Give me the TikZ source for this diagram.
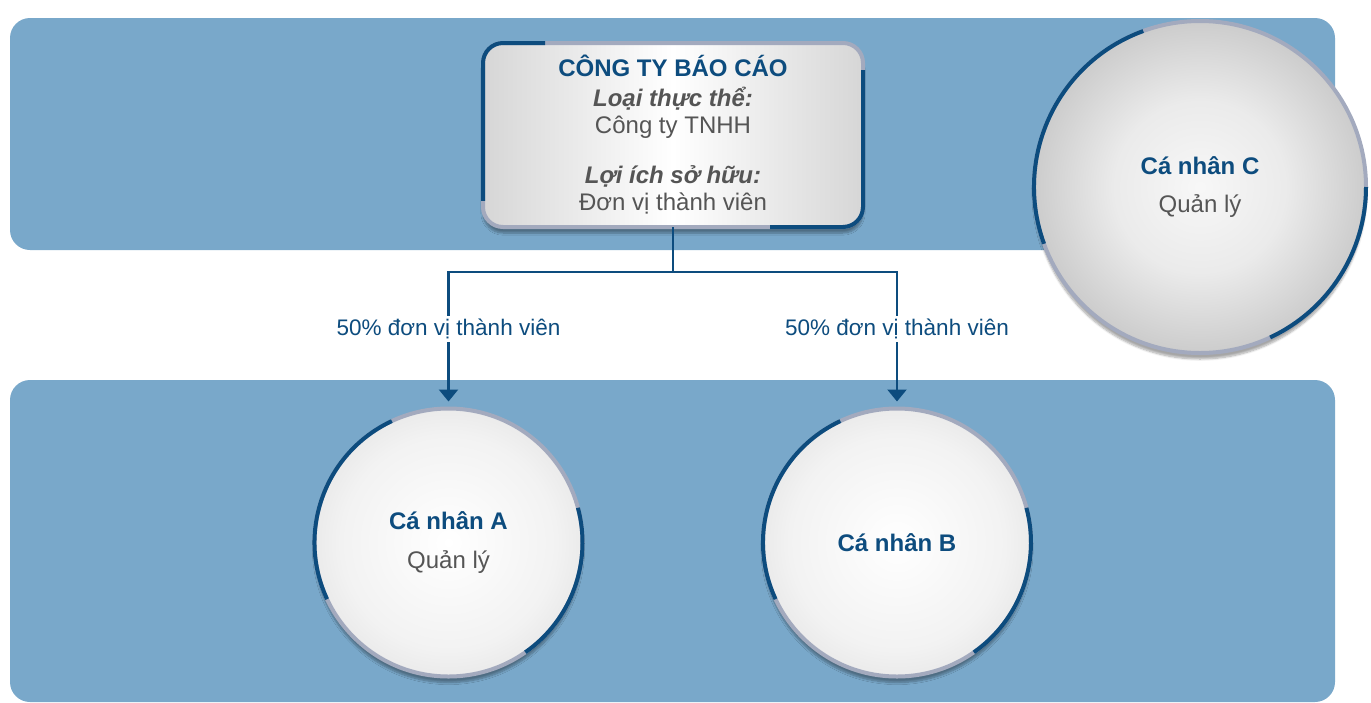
\documentclass[tikz,border=0pt]{standalone}
\usepackage{fontspec}
\setmainfont{Liberation Sans}
\usepackage{xcolor}
\usepackage{tikz}
\usetikzlibrary{shapes,arrows.meta,positioning,shadows.blur}

\definecolor{bandblue}{HTML}{79A8CA}
\definecolor{darkblue}{HTML}{0D4C7E}
\definecolor{rimgrey}{HTML}{A3AABE}
\definecolor{textgrey}{HTML}{555555}

\pgfdeclareradialshading{pearl}{\pgfpoint{0bp}{0bp}}{color(0bp)=(white); color(20bp)=(black!5); color(35bp)=(black!14); color(50bp)=(black!14)}
\pgfdeclareradialshading{bigpearl}{\pgfpoint{0bp}{0bp}}{color(0bp)=(black!3); color(13bp)=(black!8); color(35bp)=(black!30); color(50bp)=(black!30)}

\tikzset{
    band/.style={
        fill=bandblue,
        rounded corners=20pt
    },
    report/.style={
        rectangle,
        rounded corners=20pt,
        minimum width=380pt,
        minimum height=184pt,
        draw=rimgrey,
        line width=4pt,
        outer sep=0pt,
        left color=black!16,
        right color=black!16,
        middle color=white,
        blur shadow={shadow xshift=0pt, shadow yshift=-6pt, shadow blur steps=8, shadow opacity=35},
        text=textgrey,
        align=center,
        font=\fontsize{24}{27}\selectfont
    },
    person/.style={
        circle,
        minimum size=268pt,
        draw=rimgrey,
        line width=4pt,
        outer sep=0pt,
        shading=pearl,
        blur shadow={shadow xshift=0pt, shadow yshift=-6pt, shadow blur steps=8, shadow opacity=35},
        align=center,
        font=\fontsize{24}{27}\selectfont
    },
    rim/.style={
        draw=darkblue,
        line width=4pt
    },
    link/.style={
        draw=darkblue,
        line width=2.4pt,
        shorten >=7pt,
        -{Triangle[width=19pt,length=12pt]}
    },
    share/.style={
        fill=white,
        text=darkblue,
        inner sep=3pt,
        font=\fontsize{22.5}{26}\selectfont
    }
}

\newcommand{\who}[1]{{\color{darkblue}\bfseries #1}}

\begin{document}
\begin{tikzpicture}[x=1pt,y=1pt]
    \useasboundingbox (0,0) rectangle (1371,-702);

    \fill[band] (10,-18) rectangle (1335,-250);
    \fill[band] (10,-380) rectangle (1335,-702);

    \node[report] (report) at (673,-135) {
        \who{CÔNG TY BÁO CÁO}\\[3pt]
        {\bfseries\itshape Loại thực thể:}\\
        Công ty TNHH\\[23pt]
        {\bfseries\itshape Lợi ích sở hữu:}\\
        Đơn vị thành viên
    };
    \begin{scope}
        \clip (470,-30) rectangle (545,-200);
        \draw[rim, rounded corners=20pt] (report.south west) rectangle (report.north east);
    \end{scope}
    \begin{scope}
        \clip (770,-70) rectangle (880,-240);
        \draw[rim, rounded corners=20pt] (report.south west) rectangle (report.north east);
    \end{scope}

    \node[person] (a) at (448.5,-542.5) {\who{Cá nhân A}\\[12pt]{\color{textgrey}Quản lý}};
    \node[person] (b) at (897,-542.5) {\who{Cá nhân B}};
    \node[person, minimum size=332pt, shading=bigpearl] (c) at (1200,-187) {\who{Cá nhân C}\\[11pt]{\color{textgrey}Quản lý}};

    \draw[rim] (a.115) arc[start angle=115, end angle=205, radius=134pt];
    \draw[rim] (a.-55) arc[start angle=-55, end angle=15, radius=134pt];
    \draw[rim] (b.115) arc[start angle=115, end angle=205, radius=134pt];
    \draw[rim] (b.-55) arc[start angle=-55, end angle=15, radius=134pt];
    \draw[rim] (c.110) arc[start angle=110, end angle=200, radius=166pt];
    \draw[rim] (c.-65) arc[start angle=-65, end angle=0, radius=166pt];

    \draw[link] (report.south) -- ++(0,-45) -| (a.north);
    \draw[link] (report.south) -- ++(0,-45) -| (b.north);

    \node[share] (share-a) at (448.5,-329) {50\% đơn vị thành viên};
    \node[share] (share-b) at (897,-329) {50\% đơn vị thành viên};
\end{tikzpicture}
\end{document}
